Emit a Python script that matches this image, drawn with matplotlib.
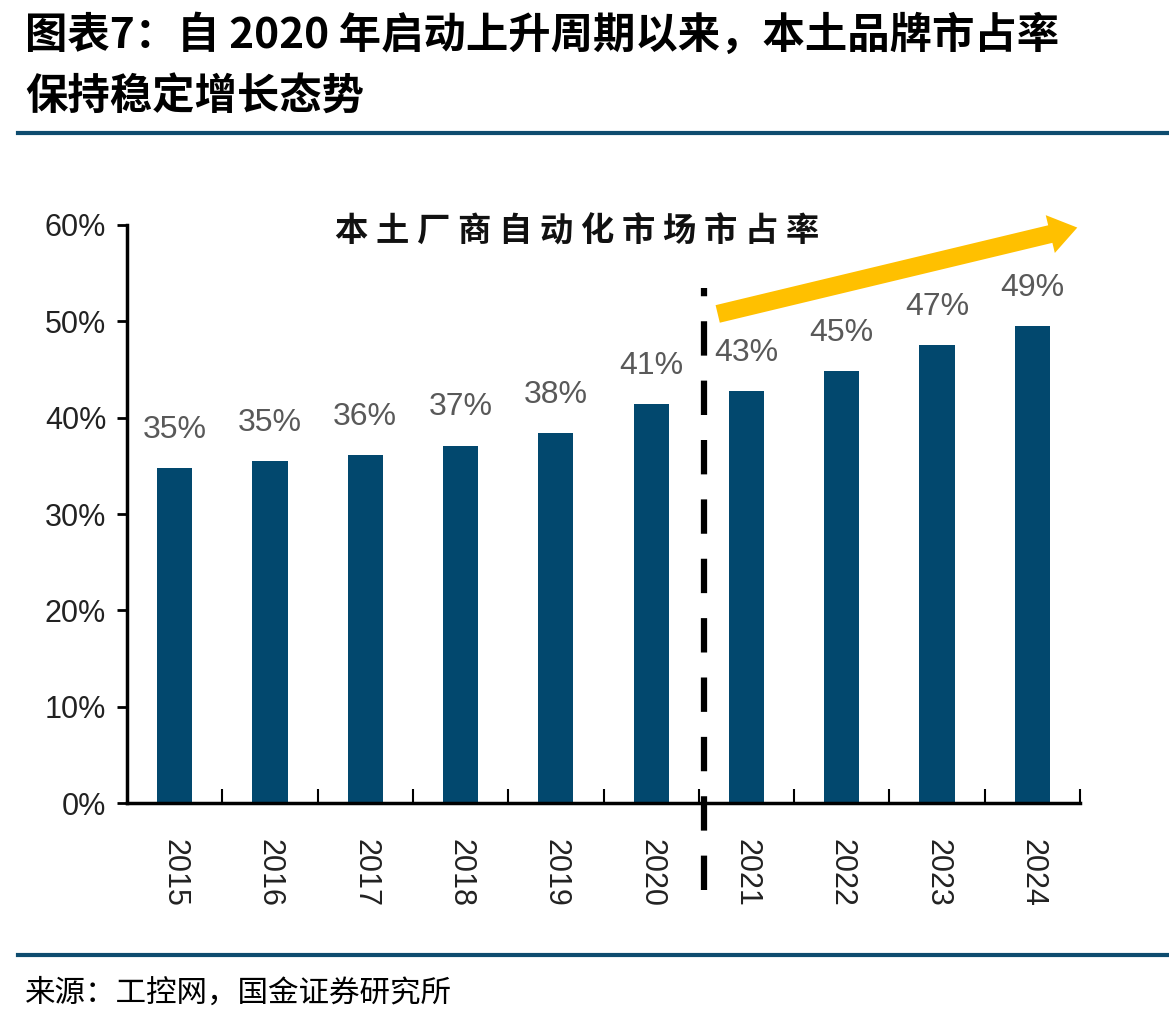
import matplotlib
matplotlib.use("Agg")
import matplotlib.pyplot as plt
from matplotlib.ticker import FixedLocator, PercentFormatter

plt.rcParams['font.family'] = ['Liberation Sans', 'Noto Sans CJK SC', 'DejaVu Sans']

years = ['2015', '2016', '2017', '2018', '2019', '2020', '2021', '2022', '2023', '2024']
share = [0.348, 0.355, 0.361, 0.371, 0.384, 0.414, 0.428, 0.448, 0.475, 0.495]
labels = ['35%', '35%', '36%', '37%', '38%', '41%', '43%', '45%', '47%', '49%']
yticks = [0, 0.1, 0.2, 0.3, 0.4, 0.5, 0.6]

title_line1 = '图表7：自 2020 年启动上升周期以来，本土品牌市占率'
title_line2 = '保持稳定增长态势'
inner_title = '本 土 厂 商 自 动 化 市 场 市 占 率'
source = '来源：工控网，国金证券研究所'

BAR = '#02486E'
LINE = '#0E4C6F'
GOLD = '#FFC000'
GRAY = '#595959'
CJK = ['Noto Sans CJK SC', 'DejaVu Sans']

fig = plt.figure(figsize=(11.69, 10.22), dpi=100)
ax = fig.add_axes([127/1169, 1-803/1022, (1080-127)/1169, (803-225)/1022])

x = list(range(len(years)))
ax.bar(x, share, width=0.37, color=BAR, zorder=2)
for xi, v, lab in zip(x, share, labels):
    ax.text(xi, v + 0.024, lab, ha='center', va='bottom', fontsize=23, color=GRAY)

ax.set_xlim(-0.5, len(years) - 0.5)
ax.set_ylim(0, 0.6)
ax.yaxis.set_major_locator(FixedLocator(yticks))
ax.yaxis.set_major_formatter(PercentFormatter(1.0, decimals=0))
ax.tick_params(axis='y', labelsize=22, labelcolor='#222222', direction='out', length=7, width=2, pad=8)

ax.set_xticks(x)
ax.set_xticklabels(years, rotation=270, fontsize=22, color='#222222')
ax.tick_params(axis='x', which='major', length=0, pad=26)
ax.set_xticks([i + 0.5 for i in x], minor=True)
ax.tick_params(axis='x', which='minor', direction='in', length=10, width=1.5)

for s in ['top', 'right']:
    ax.spines[s].set_visible(False)
for s in ['left', 'bottom']:
    ax.spines[s].set_linewidth(2.5)

# dashed separator between 2020 and 2021
ax.plot([5.55, 5.55], [-0.09, 0.535], color='black', lw=4.5, ls=(0, (5.5, 4)), clip_on=False, zorder=3)

# trend arrow
ax.annotate('', xy=(9.5, 0.598), xytext=(5.67, 0.507),
            arrowprops=dict(arrowstyle='simple,head_length=1.0,head_width=1.4,tail_width=0.65',
                            color=GOLD, lw=0, mutation_scale=20),
            annotation_clip=False, zorder=4)

ax.text(0.472, 1.0 - 0.012, inner_title, transform=ax.transAxes, ha='center', va='center',
        fontsize=24, fontweight='bold', family=CJK, color='#111111')

# title
fig.text(25/1169, 1 - 36/1022, title_line1, ha='left', va='center', fontsize=30.5,
         fontweight='bold', family=CJK, color='black')
fig.text(25/1169, 1 - 97/1022, title_line2, ha='left', va='center', fontsize=30.5,
         fontweight='bold', family=CJK, color='black')

# separator lines
fig.add_artist(plt.Line2D([18/1169, 1], [1 - 133/1022] * 2, color=LINE, lw=3))
fig.add_artist(plt.Line2D([18/1169, 1], [1 - 955/1022] * 2, color=LINE, lw=3))

fig.text(25/1169, 1 - 993/1022, source, ha='left', va='center', fontsize=22, family=CJK, color='black')

fig.savefig('out.png', dpi=100)
